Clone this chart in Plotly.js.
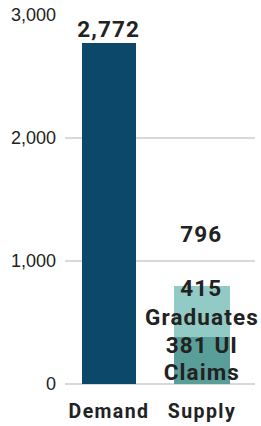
<!DOCTYPE html>
<html><head><meta charset="utf-8">
<script src="https://cdn.plot.ly/plotly-3.0.1.min.js"></script>
<style>
html,body{margin:0;padding:0;background:#fff}#chart{width:261px;height:426px}
#chart .xtick text{letter-spacing:1.4px}
#chart .annotation-text{letter-spacing:1.1px}
</style>
</head><body><div id="chart"></div>
<script>
const categories = ['Demand', 'Supply'];
const demandValues = [2772];
const uiClaimsValues = [381];
const graduatesValues = [415];
const supplyTotal = [796];
const yTicks = [0, 1000, 2000, 3000];
const yTickLabels = ['0', '1,000', '2,000', '3,000'];

const lblFont = {family: 'Roboto', size: 22.5, color: '#222222', weight: 700};
const traces = [
  {type: 'bar', x: [categories[0]], y: demandValues, marker: {color: '#0c4869'}, width: 0.59, hoverinfo: 'none'},
  {type: 'bar', x: [categories[1]], y: uiClaimsValues, marker: {color: '#5a9e9a'}, width: 0.6, hoverinfo: 'none'},
  {type: 'bar', x: [categories[1]], y: graduatesValues, marker: {color: '#92cac6'}, width: 0.6, hoverinfo: 'none'}
];
function ann(x, y, text, yshift) {
  return {x: x, y: y, text: text, showarrow: false, yanchor: 'middle', yshift: yshift, font: lblFont};
}
const layout = {
  width: 261, height: 426,
  margin: {l: 65, r: 6, t: 15, b: 41.5},
  barmode: 'stack', showlegend: false,
  paper_bgcolor: '#fff', plot_bgcolor: '#fff',
  xaxis: {type: 'category', range: [-0.473, 1.57], showgrid: false, zeroline: false, showline: false,
    ticks: '', tickfont: {family: 'Roboto', size: 19.5, color: '#222222', weight: 700}, ticklabelstandoff: 13},
  yaxis: {range: [0, 3000], tickvals: yTicks, ticktext: yTickLabels, showgrid: true, gridcolor: '#d9d9d9', gridwidth: 2,
    zeroline: true, zerolinecolor: '#d9d9d9', zerolinewidth: 2, showline: false, ticks: '',
    tickfont: {family: 'Liberation Sans, Arial', size: 18, color: '#222222'}, ticklabelstandoff: 8},
  annotations: [
    ann(categories[0], demandValues[0], '2,772', 14),
    ann(categories[1], supplyTotal[0], '796', 52),
    ann(categories[1], supplyTotal[0], String(graduatesValues[0]), -1.5),
    ann(categories[1], supplyTotal[0], 'Graduates', -30.5),
    ann(categories[1], uiClaimsValues[0], uiClaimsValues[0] + ' UI', -8),
    ann(categories[1], uiClaimsValues[0], 'Claims', -34.5)
  ]
};
Plotly.newPlot('chart', traces, layout, {displayModeBar: false, staticPlot: true});
</script></body></html>
